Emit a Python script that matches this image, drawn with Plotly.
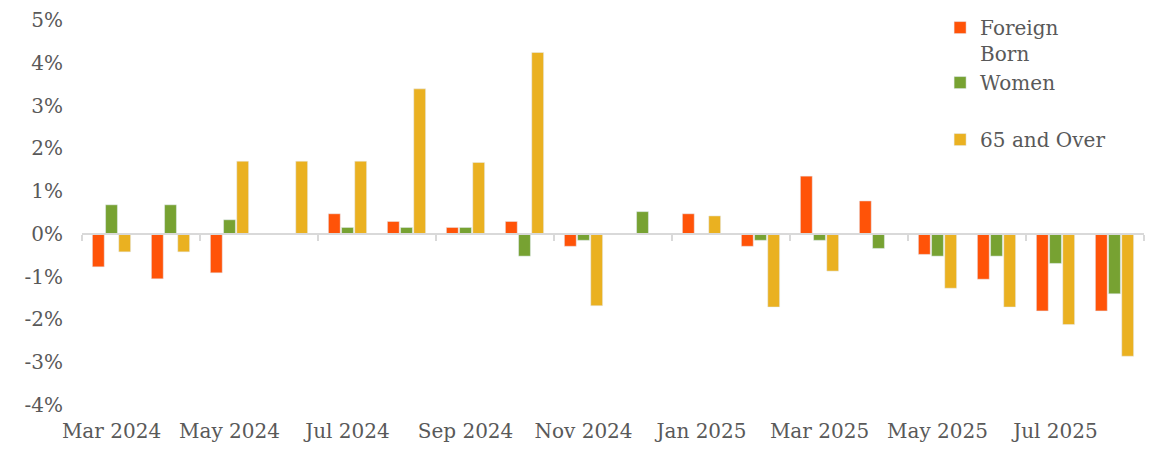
import plotly.graph_objects as go

months = ["Mar 2024", "Apr 2024", "May 2024", "Jun 2024", "Jul 2024", "Aug 2024",
          "Sep 2024", "Oct 2024", "Nov 2024", "Dec 2024", "Jan 2025", "Feb 2025",
          "Mar 2025", "Apr 2025", "May 2025", "Jun 2025", "Jul 2025", "Aug 2025"]

foreign_born = [-0.77, -1.05, -0.91, 0.0, 0.47, 0.29, 0.15, 0.29, -0.29, 0.0,
                0.47, -0.29, 1.35, 0.77, -0.48, -1.06, -1.80, -1.80]
women = [0.68, 0.68, 0.33, 0.0, 0.15, 0.15, 0.15, -0.52, -0.15, 0.52,
         0.0, -0.15, -0.15, -0.34, -0.52, -0.52, -0.69, -1.40]
over_65 = [-0.42, -0.42, 1.70, 1.70, 1.70, 3.39, 1.67, 4.24, -1.68, 0.0,
           0.42, -1.71, -0.87, 0.0, -1.27, -1.71, -2.12, -2.86]

y_ticks = [-4, -3, -2, -1, 0, 1, 2, 3, 4, 5]
y_ticktext = [f"{v}%" for v in y_ticks]
x_ticks = months[::2]

FONT = "DejaVu Serif"
GRAY = "#595959"

fig = go.Figure()
fig.add_trace(go.Bar(x=months, y=foreign_born, name="Foreign<br>Born",
                     marker_color="#FF5308", legendgroup="a"))
fig.add_trace(go.Bar(x=months, y=women, name="Women",
                     marker_color="#77A232", legendgroup="a"))
fig.add_trace(go.Bar(x=months, y=over_65, name="65 and Over",
                     marker_color="#EAB121", legendgroup="b"))

# helper trace for the zero-line axis with boundary ticks
n = len(months)
fig.add_trace(go.Scatter(x=[-0.5, n - 0.5], y=[0, 0], xaxis="x2", mode="none",
                         showlegend=False, hoverinfo="skip"))

fig.update_layout(
    width=1151, height=443,
    margin=dict(l=74, r=15, t=12, b=46, autoexpand=False),
    paper_bgcolor="white", plot_bgcolor="white",
    barmode="group", bargap=0.33, bargroupgap=0.1,
    font=dict(family=FONT, color=GRAY, size=20),
    xaxis=dict(type="category", tickvals=x_ticks, ticktext=x_ticks,
               showline=False, showgrid=False, ticks="", zeroline=False,
               automargin=False, ticklabelstandoff=12,
               tickfont=dict(size=20, color=GRAY)),
    xaxis2=dict(overlaying="x", anchor="free", position=4 / 9, type="linear",
                range=[-0.5, n - 0.5], automargin=False,
                tickvals=[i - 0.5 for i in range(0, n + 1, 2)],
                ticks="outside", ticklen=6, tickwidth=2, tickcolor="#d9d9d9",
                showline=True, linecolor="#d9d9d9", linewidth=2,
                showticklabels=False, showgrid=False, zeroline=False),
    yaxis=dict(range=[-4, 5], tickvals=y_ticks, ticktext=y_ticktext,
               showgrid=False, zeroline=False, showline=False, automargin=False,
               ticklabeloverflow="allow",
               ticklabelstandoff=18, tickfont=dict(size=20, color=GRAY)),
    legend=dict(x=0.808, y=1.031, xanchor="left", yanchor="top",
                traceorder="grouped", tracegroupgap=28, valign="top",
                font=dict(size=20, color=GRAY), itemwidth=30,
                bgcolor="rgba(0,0,0,0)"),
)

fig.write_html("out.html")
